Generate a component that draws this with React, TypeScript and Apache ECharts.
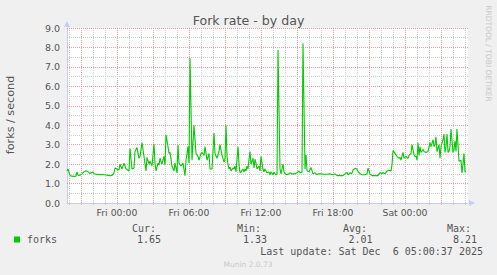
import React, { useEffect, useRef } from "react";
import * as echarts from "echarts";

// minutes relative to Fri 00:00
const minutes = [
  -250, -245, -235, -225, -215, -205, -200, -195, -185, -175, -165, -155, -145, -135, -125, -120,
  -115, -105, -95, -85, -75, -65, -55, -45, -35, -25, -15, -10, 0, 10, 15, 25, 35, 45, 60, 65,
  75, 85, 90, 100, 110, 115, 125, 135, 145, 150, 160, 165, 175, 185, 190, 195, 205, 210, 215,
  225, 235, 240, 245, 255, 260, 265, 275, 285, 290, 300, 305, 310, 320, 330, 340, 345, 355, 360,
  365, 375, 385, 395, 405, 410, 420, 425, 435, 440, 450, 460, 465, 475, 485, 490, 500, 510, 515,
  525, 535, 540, 545, 550, 555, 560, 565, 570, 580, 585, 590, 595, 605, 610, 615, 620, 630, 635,
  640, 645, 650, 655, 660, 665, 670, 680, 685, 690, 695, 700, 710, 715, 720, 730, 735, 740, 745,
  750, 760, 765, 770, 780, 785, 790, 795, 800, 805, 815, 820, 830, 835, 840, 850, 860, 865, 875,
  885, 890, 900, 910, 915, 925, 930, 940, 945, 950, 960, 970, 980, 990, 1000, 1010, 1020, 1035,
  1050, 1065, 1080, 1090, 1100, 1115, 1130, 1140, 1150, 1155, 1165, 1175, 1180, 1190, 1200, 1205,
  1215, 1225, 1240, 1250, 1255, 1265, 1275, 1290, 1305, 1315, 1325, 1330, 1340, 1350, 1360, 1370,
  1375, 1380, 1390, 1400, 1410, 1415, 1420, 1430, 1435, 1445, 1455, 1460, 1470, 1475, 1485, 1490,
  1495, 1500, 1505, 1510, 1515, 1520, 1530, 1535, 1545, 1555, 1565, 1570, 1580, 1585, 1590, 1595,
  1600, 1610, 1615, 1620, 1630, 1635, 1640, 1645, 1650, 1655, 1660, 1665, 1670, 1680, 1685, 1690,
  1695, 1700, 1705, 1710, 1720, 1725, 1730, 1735, 1740, 1745,
];

const forks = [
  1.65, 1.75, 1.42, 1.38, 1.37, 1.38, 1.6, 1.42, 1.43, 1.5, 1.6, 1.66, 1.6, 1.52, 1.58, 1.6,
  1.5, 1.48, 1.47, 1.46, 1.46, 1.45, 1.44, 1.42, 1.4, 1.42, 1.55, 1.8, 1.75, 1.7, 2.0, 1.75, 2.05, 1.75, 1.65, 2.8,
  1.75, 1.8, 2.65, 2.85, 2.3, 2.4, 3.1, 2.4, 1.65, 2.35, 2.0, 2.15, 1.9, 3.05, 2.05, 1.65, 2.05, 1.95, 2.3,
  2.0, 2.4, 1.95, 3.5, 2.9, 2.55, 2.6, 1.9, 1.65, 2.05, 1.55, 3.0, 2.05, 1.9, 2.05, 1.4, 2.2, 2.9, 2.05,
  7.45, 2.2, 4.0, 2.55, 2.4, 2.2, 2.55, 2.6, 2.45, 2.9, 2.2, 2.55, 1.75, 1.75, 3.6, 2.55, 2.3, 2.65, 3.0,
  2.45, 2.1, 2.3, 4.0, 2.4, 2.0, 1.75, 1.85, 1.65, 1.8, 1.75, 1.9, 1.6, 2.9, 2.0, 1.55, 1.6, 1.75, 1.6,
  1.75, 1.65, 1.9, 1.75, 2.25, 2.65, 2.0, 2.3, 1.8, 2.25, 2.05, 1.75, 1.9, 1.65, 2.4, 1.75, 1.6, 1.75, 1.65,
  1.55, 1.6, 1.45, 1.6, 1.45, 1.6, 1.5, 1.45, 1.5, 7.87, 1.75, 1.5, 2.0, 1.6, 1.5, 1.45, 1.5, 1.55, 1.5,
  1.5, 1.5, 1.55, 1.65, 1.55, 1.6, 8.21, 1.75, 2.47, 1.66, 1.6, 1.83, 1.5, 1.55, 1.46, 1.5, 1.5, 1.48,
  1.48, 1.5, 1.45, 1.5, 1.41, 1.41, 1.41, 1.5, 1.57, 1.45, 1.55, 1.52, 1.7, 1.78, 1.75, 1.62,
  1.5, 1.45, 1.45, 1.5, 1.8, 1.5, 1.41, 1.41, 1.41, 1.57, 1.5, 1.57, 1.5, 1.65, 1.68, 1.65,
  1.96, 2.7, 2.55, 2.4, 2.3, 2.35, 2.2, 2.6, 2.3, 2.4, 2.3, 2.45, 2.55, 3.0, 2.5, 2.4,
  2.4, 2.2, 3.1, 2.45, 2.9, 2.6, 2.75, 2.65, 2.6, 2.65, 3.1, 2.9, 3.25, 2.9, 3.0, 3.4,
  2.65, 3.0, 2.3, 2.9, 3.25, 3.55, 2.6, 2.9, 3.55, 2.6, 2.65, 2.9, 3.8, 2.6, 2.75, 3.2,
  2.65, 3.8, 3.0, 2.15, 2.2, 1.55, 2.0, 2.55, 1.6, 1.65,
];

const xLabelMinutes = [0, 360, 720, 1080, 1440];
const xLabels = ["Fri 00:00", "Fri 06:00", "Fri 12:00", "Fri 18:00", "Sat 00:00"];
const legendHeaders = ["Cur:", "Min:", "Avg:", "Max:"];
const legendValues = ["1.65", "1.33", "2.01", "8.21"];
const seriesName = "forks";
const titleText = "Fork rate - by day";
const yAxisTitle = "forks / second";
const lastUpdate = "Last update: Sat Dec  6 05:00:37 2025";

const X_MIN = -250;
const X_MAX = 1755;

export default function App() {
  const ref = useRef<HTMLDivElement>(null);

  useEffect(() => {
    if (!ref.current) return;
    const chart = echarts.init(ref.current, null, { renderer: "svg" });

    const minorColor = "#cdcdcd";
    const majorColor = "#e39f9f";
    const hourly: number[] = [];
    for (let m = -240; m <= 1740; m += 60) hourly.push(m);
    const halfSteps: number[] = [];
    for (let v = 0.5; v <= 9.001; v += 0.5) halfSteps.push(Math.round(v * 10) / 10);

    const gridLines: any[] = [];
    hourly.forEach((m) => {
      gridLines.push({
        xAxis: m,
        lineStyle: { color: m % 180 === 0 ? majorColor : minorColor, type: [1, 1], width: 1 },
      });
    });
    halfSteps.forEach((v) => {
      gridLines.push({
        yAxis: v,
        lineStyle: { color: Number.isInteger(v) ? majorColor : minorColor, type: [1, 1], width: 1 },
      });
    });

    const mono = "'DejaVu Sans Mono', monospace";
    const sans = "'DejaVu Sans', sans-serif";
    const textColor = "#555";

    const graphics: any[] = [
      {
        type: "text",
        x: 248.5,
        y: 20,
        style: { text: titleText, fill: textColor, fontSize: 12.6, fontFamily: sans, align: "center", verticalAlign: "middle" },
      },
      {
        type: "text",
        x: 10.5,
        y: 115,
        rotation: Math.PI / 2,
        style: { text: yAxisTitle, fill: textColor, fontSize: 11.2, fontFamily: sans, align: "center", verticalAlign: "middle" },
      },
      {
        type: "text",
        x: 488,
        y: 53.5,
        rotation: -Math.PI / 2,
        style: { text: "RRDTOOL / TOBI OETIKER", fill: "#c8c8c8", fontSize: 7.5, fontFamily: sans, align: "center", verticalAlign: "middle" },
      },
      {
        type: "rect",
        shape: { x: 14, y: 236.5, width: 6, height: 6 },
        style: { fill: "#00cc00" },
      },
      {
        type: "text",
        x: 27,
        y: 239.5,
        style: { text: seriesName, fill: textColor, fontSize: 10, fontFamily: mono, align: "left", verticalAlign: "middle" },
      },
      {
        type: "text",
        x: 483,
        y: 251.5,
        style: { text: lastUpdate, fill: textColor, fontSize: 10, fontFamily: mono, align: "right", verticalAlign: "middle" },
      },
      {
        type: "text",
        x: 248,
        y: 264,
        style: { text: "Munin 2.0.73", fill: "#c8c8c8", fontSize: 7.5, fontFamily: sans, align: "center", verticalAlign: "middle" },
      },
    ];
    const headerRight = [156, 261, 367, 471];
    const valueRight = [161, 267, 372.5, 477];
    legendHeaders.forEach((h, i) => {
      graphics.push({
        type: "text",
        x: headerRight[i],
        y: 228,
        style: { text: h, fill: textColor, fontSize: 10, fontFamily: mono, align: "right", verticalAlign: "middle" },
      });
      graphics.push({
        type: "text",
        x: valueRight[i],
        y: 239.5,
        style: { text: legendValues[i], fill: textColor, fontSize: 10, fontFamily: mono, align: "right", verticalAlign: "middle" },
      });
    });

    const axisColor = "#c6cdf2";

    chart.setOption({
      animation: false,
      backgroundColor: "#f0f0f0",
      grid: {
        left: 67,
        right: 29,
        top: 28,
        bottom: 72,
        show: true,
        backgroundColor: "#ffffff",
        borderWidth: 0,
      },
      xAxis: {
        type: "value",
        min: X_MIN,
        max: X_MAX,
        splitLine: { show: false },
        axisLine: {
          show: true,
          onZero: false,
          lineStyle: { color: axisColor, width: 1 },
          symbol: ["none", "triangle"],
          symbolSize: [6, 6],
          symbolOffset: [0, 4],
        },
        axisTick: {
          show: true,
          customValues: hourly,
          length: 2,
          lineStyle: { color: "#c8c8c8" },
        },
        axisLabel: {
          customValues: xLabelMinutes,
          formatter: (v: number) => {
            const i = xLabelMinutes.indexOf(v);
            return i >= 0 ? xLabels[i] : "";
          },
          color: textColor,
          fontSize: 9.3,
          fontFamily: sans,
          margin: 5,
        },
      },
      yAxis: {
        type: "value",
        min: 0,
        max: 9,
        interval: 1,
        splitLine: { show: false },
        axisLine: {
          show: true,
          onZero: false,
          lineStyle: { color: axisColor, width: 1 },
          symbol: ["none", "triangle"],
          symbolSize: [6, 6],
          symbolOffset: [0, 4],
        },
        axisTick: { show: false },
        axisLabel: {
          formatter: (v: number) => v.toFixed(1),
          color: textColor,
          fontSize: 9.5,
          fontFamily: sans,
          margin: 7,
        },
      },
      graphic: graphics,
      series: [
        {
          type: "line",
          data: [],
          silent: true,
          z: 1,
          markLine: {
            silent: true,
            symbol: ["none", "none"],
            label: { show: false },
            z: 1,
            animation: false,
            data: gridLines,
          },
        },
        {
          name: seriesName,
          type: "line",
          data: minutes.map((m, i) => [m, forks[i]]),
          showSymbol: false,
          symbol: "none",
          z: 3,
          lineStyle: { color: "#00cc00", width: 1.1 },
          itemStyle: { color: "#00cc00" },
        },
      ],
    });

    return () => chart.dispose();
  }, []);

  return (
    <div
      ref={ref}
      style={{ position: "fixed", left: 0, top: 0, width: 497, height: 275 }}
    />
  );
}
